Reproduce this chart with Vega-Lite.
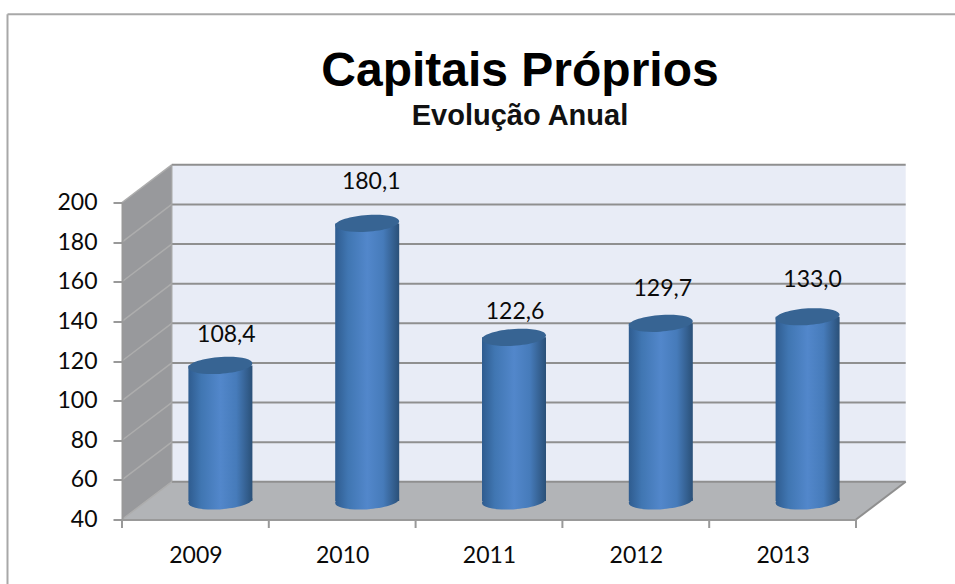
{
  "$schema": "https://vega.github.io/schema/vega-lite/v6.json",
  "width": 734,
  "height": 317,
  "padding": {"left": 122, "top": 202.5, "right": 99, "bottom": 64.5},
  "autosize": "none",
  "background": "white",
  "title": {
    "text": "Capitais Próprios",
    "subtitle": "Evolução Anual",
    "font": "Liberation Sans",
    "fontSize": 48,
    "fontWeight": "bold",
    "color": "#000000",
    "subtitleFont": "Liberation Sans",
    "subtitleFontSize": 29,
    "subtitleFontWeight": "bold",
    "subtitleColor": "#111111",
    "subtitlePadding": 6,
    "anchor": "middle",
    "dx": 31,
    "offset": -118
  },
  "config": {"view": {"stroke": null}},
  "resolve": {"axis": {"x": "independent", "y": "independent"}},
  "datasets": {
    "equity": [
      {"year": 2009, "value": 108.4, "label": "108,4"},
      {"year": 2010, "value": 180.1, "label": "180,1"},
      {"year": 2011, "value": 122.6, "label": "122,6"},
      {"year": 2012, "value": 129.7, "label": "129,7"},
      {"year": 2013, "value": 133.0, "label": "133,0"}
    ],
    "grid": [
      {"level": 40}, {"level": 60}, {"level": 80}, {"level": 100}, {"level": 120},
      {"level": 140}, {"level": 160}, {"level": 180}, {"level": 200}
    ],
    "floor": [
      {"x": 2008.5, "top": 40, "low": 40},
      {"x": 2008.8386, "top": 59, "low": 40},
      {"x": 2013.5, "top": 59, "low": 40},
      {"x": 2013.8386, "top": 59, "low": 59}
    ],
    "sideWall": [
      {"x": 2008.5, "top": 200, "low": 40},
      {"x": 2008.8386, "top": 219, "low": 59}
    ],
    "backWall": [
      {"x": 2008.8386, "x2": 2013.8386, "top": 219, "low": 59}
    ],
    "categoryTicks": [
      {"x": 2008.5}, {"x": 2009.5}, {"x": 2010.5}, {"x": 2011.5}, {"x": 2012.5}, {"x": 2013.5}
    ],
    "frame": [
      {"x": 2007.72, "x2": 2016, "y": 295, "y2": 295},
      {"x": 2007.72, "x2": 2007.72, "y": 295, "y2": 0}
    ]
  },
  "layer": [
    {
      "description": "Outer chart frame, running off the right and bottom edges",
      "data": {"name": "frame"},
      "mark": {"type": "rule", "color": "#a8a8a8", "strokeWidth": 2},
      "encoding": {
        "x": {
          "field": "x", "type": "quantitative",
          "scale": {"domain": [2008.5, 2013.5], "nice": false, "zero": false, "padding": 0},
          "axis": {
            "values": [2009, 2010, 2011, 2012, 2013],
            "format": "d",
            "title": null,
            "grid": false,
            "ticks": false,
            "domain": true,
            "domainColor": "#999999",
            "domainWidth": 2,
            "labelFont": "Lato",
            "labelFontSize": 23,
            "labelColor": "#0a0a0a",
            "labelPadding": 25,
            "labelFlush": false,
            "labelOverlap": false,
            "zindex": 1
          }
        },
        "x2": {"field": "x2"},
        "y": {
          "field": "y", "type": "quantitative",
          "scale": {"domain": [40, 200], "nice": false, "zero": false},
          "axis": {
            "values": [40, 60, 80, 100, 120, 140, 160, 180, 200],
            "title": null,
            "grid": false,
            "domain": true,
            "domainColor": "#999999",
            "domainWidth": 2,
            "tickColor": "#999999",
            "tickWidth": 2,
            "tickSize": 9,
            "labelFont": "Lato",
            "labelFontSize": 23,
            "labelColor": "#0a0a0a",
            "labelPadding": 16,
            "labelFlush": false,
            "labelOverlap": false,
            "zindex": 1
          }
        },
        "y2": {"field": "y2"}
      }
    },
    {
      "description": "Back wall of the box",
      "data": {"name": "backWall"},
      "mark": {"type": "rect", "fill": "#e8ecf6"},
      "encoding": {
        "x": {"field": "x", "type": "quantitative", "axis": null},
        "x2": {"field": "x2"},
        "y": {"field": "top", "type": "quantitative", "axis": null},
        "y2": {"field": "low"}
      }
    },
    {
      "description": "Left side wall",
      "data": {"name": "sideWall"},
      "mark": {"type": "area", "fill": "#98999c", "opacity": 1},
      "encoding": {
        "x": {"field": "x", "type": "quantitative", "axis": null},
        "y": {"field": "top", "type": "quantitative", "axis": null},
        "y2": {"field": "low"}
      }
    },
    {
      "description": "Floor",
      "data": {"name": "floor"},
      "mark": {"type": "area", "fill": "#b2b4b7", "opacity": 1},
      "encoding": {
        "x": {"field": "x", "type": "quantitative", "axis": null},
        "y": {"field": "top", "type": "quantitative", "axis": null},
        "y2": {"field": "low"}
      }
    },
    {
      "description": "Gridlines along the back wall",
      "data": {"name": "grid"},
      "mark": {"type": "rule", "color": "#8f8f8f", "strokeWidth": 2, "yOffset": -37.7, "y2Offset": -37.7, "xOffset": 49.7, "x2Offset": 49.7},
      "encoding": {
        "x": {"datum": 2008.5, "type": "quantitative", "axis": null},
        "x2": {"datum": 2013.5},
        "y": {"field": "level", "type": "quantitative", "axis": null},
        "y2": {"field": "level"}
      }
    },
    {
      "description": "Gridlines receding along the side wall",
      "data": {"name": "grid"},
      "mark": {"type": "rule", "color": "#adadad", "strokeWidth": 1.5, "y2Offset": -37.7, "x2Offset": 49.7},
      "encoding": {
        "x": {"datum": 2008.5, "type": "quantitative", "axis": null},
        "x2": {"datum": 2008.5},
        "y": {"field": "level", "type": "quantitative", "axis": null},
        "y2": {"field": "level"}
      }
    },
    {
      "description": "Inner vertical corner of the box",
      "data": {"name": "backWall"},
      "mark": {"type": "rule", "color": "#a4a4a4", "strokeWidth": 1.5},
      "encoding": {
        "x": {"field": "x", "type": "quantitative", "axis": null},
        "y": {"field": "top", "type": "quantitative", "axis": null},
        "y2": {"field": "low"}
      }
    },
    {
      "description": "Front-right edge of the floor",
      "data": {"values": [{"x": 2013.5, "level": 40}]},
      "mark": {"type": "rule", "color": "#8f8f8f", "strokeWidth": 2, "y2Offset": -37.7, "x2Offset": 49.7},
      "encoding": {
        "x": {"field": "x", "type": "quantitative", "axis": null},
        "x2": {"field": "x"},
        "y": {"field": "level", "type": "quantitative", "axis": null},
        "y2": {"field": "level"}
      }
    },
    {
      "description": "Ticks between the year categories",
      "data": {"name": "categoryTicks"},
      "mark": {"type": "rule", "color": "#999999", "strokeWidth": 2},
      "encoding": {
        "x": {"field": "x", "type": "quantitative", "axis": null},
        "y": {"datum": 40, "type": "quantitative", "axis": null},
        "y2": {"datum": 35.7}
      }
    },
    {
      "description": "Rounded base of each cylinder",
      "data": {"name": "equity"},
      "mark": {
        "type": "point", "filled": true, "opacity": 1, "size": 4096, "strokeWidth": 0,
        "shape": "M-1,0.06 A1,0.26 -4 1 1 1,-0.06 A1,0.26 -4 1 1 -1,0.06 Z",
        "xOffset": 25, "yOffset": -18.5,
        "fill": {
          "x1": 0, "y1": 0, "x2": 1, "y2": 0, "gradient": "linear",
          "stops": [
            {"offset": 0, "color": "#2f5c8f"},
            {"offset": 0.2, "color": "#4076b2"},
            {"offset": 0.5, "color": "#5287cb"},
            {"offset": 0.75, "color": "#467bba"},
            {"offset": 1, "color": "#2a5078"}
          ]
        }
      },
      "encoding": {
        "x": {"field": "year", "type": "quantitative", "axis": null},
        "y": {"datum": 40, "type": "quantitative", "axis": null}
      }
    },
    {
      "description": "Cylinder bodies",
      "data": {"name": "equity"},
      "mark": {
        "type": "bar", "width": 64, "opacity": 1,
        "xOffset": 25, "x2Offset": 25, "yOffset": -18.5, "y2Offset": -18.5,
        "fill": {
          "x1": 0, "y1": 0, "x2": 1, "y2": 0, "gradient": "linear",
          "stops": [
            {"offset": 0, "color": "#2f5c8f"},
            {"offset": 0.2, "color": "#4076b2"},
            {"offset": 0.5, "color": "#5287cb"},
            {"offset": 0.75, "color": "#467bba"},
            {"offset": 1, "color": "#2a5078"}
          ]
        }
      },
      "encoding": {
        "x": {"field": "year", "type": "quantitative", "axis": null},
        "y": {"field": "value", "type": "quantitative", "axis": null},
        "y2": {"datum": 40}
      }
    },
    {
      "description": "Top cap of each cylinder",
      "data": {"name": "equity"},
      "mark": {
        "type": "point", "filled": true, "opacity": 1, "size": 4096, "strokeWidth": 0,
        "shape": "M-1,0.06 A1,0.26 -4 1 1 1,-0.06 A1,0.26 -4 1 1 -1,0.06 Z",
        "xOffset": 25, "yOffset": -18.5,
        "fill": "#376493"
      },
      "encoding": {
        "x": {"field": "year", "type": "quantitative", "axis": null},
        "y": {"field": "value", "type": "quantitative", "axis": null}
      }
    },
    {
      "description": "Value label 2009",
      "data": {"name": "equity"},
      "transform": [{"filter": "datum.year === 2009"}],
      "mark": {"type": "text", "font": "Lato", "fontSize": 23, "color": "#0a0a0a", "xOffset": 31, "yOffset": -49},
      "encoding": {
        "x": {"field": "year", "type": "quantitative", "axis": null},
        "y": {"field": "value", "type": "quantitative", "axis": null},
        "text": {"field": "label"}
      }
    },
    {
      "description": "Value label 2010",
      "data": {"name": "equity"},
      "transform": [{"filter": "datum.year === 2010"}],
      "mark": {"type": "text", "font": "Lato", "fontSize": 23, "color": "#0a0a0a", "xOffset": 29, "yOffset": -60},
      "encoding": {
        "x": {"field": "year", "type": "quantitative", "axis": null},
        "y": {"field": "value", "type": "quantitative", "axis": null},
        "text": {"field": "label"}
      }
    },
    {
      "description": "Value label 2011",
      "data": {"name": "equity"},
      "transform": [{"filter": "datum.year === 2011"}],
      "mark": {"type": "text", "font": "Lato", "fontSize": 23, "color": "#0a0a0a", "xOffset": 26, "yOffset": -44},
      "encoding": {
        "x": {"field": "year", "type": "quantitative", "axis": null},
        "y": {"field": "value", "type": "quantitative", "axis": null},
        "text": {"field": "label"}
      }
    },
    {
      "description": "Value label 2012",
      "data": {"name": "equity"},
      "transform": [{"filter": "datum.year === 2012"}],
      "mark": {"type": "text", "font": "Lato", "fontSize": 23, "color": "#0a0a0a", "xOffset": 27, "yOffset": -53},
      "encoding": {
        "x": {"field": "year", "type": "quantitative", "axis": null},
        "y": {"field": "value", "type": "quantitative", "axis": null},
        "text": {"field": "label"}
      }
    },
    {
      "description": "Value label 2013",
      "data": {"name": "equity"},
      "transform": [{"filter": "datum.year === 2013"}],
      "mark": {"type": "text", "font": "Lato", "fontSize": 23, "color": "#0a0a0a", "xOffset": 30, "yOffset": -55},
      "encoding": {
        "x": {"field": "year", "type": "quantitative", "axis": null},
        "y": {"field": "value", "type": "quantitative", "axis": null},
        "text": {"field": "label"}
      }
    }
  ]
}
